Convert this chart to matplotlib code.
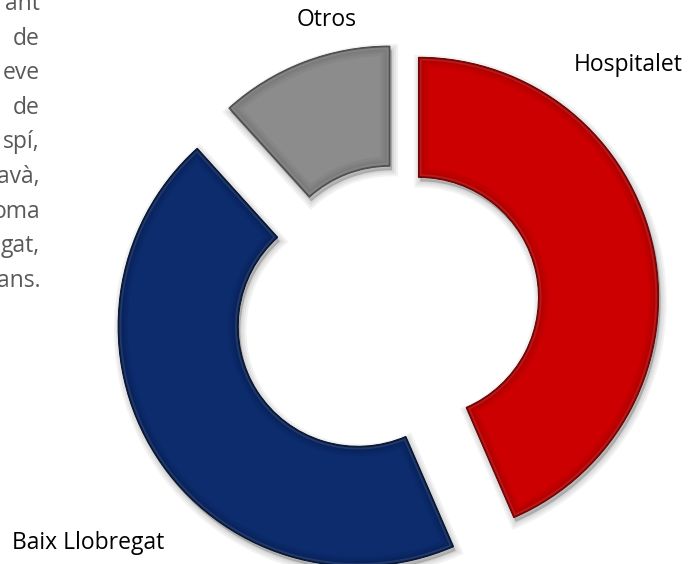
import matplotlib.pyplot as plt
from matplotlib.patches import Wedge

# donut data (share of total)
labels = ['Hospitalet', 'Baix Llobregat', 'Otros']
values = [43.5, 44.8, 11.7]
colors = ['#CC0000', '#0C2C6E', '#8C8C8C']
dark = ['#6E0000', '#03122F', '#4A4A4A']
explode = [23, 45, 17]

# cut-off paragraph on the left
side_text = ['ant', 'de', 'eve', 'de', 'spí,', 'avà,', 'oma', 'gat,', 'ans.']

W, H = 696, 564
fig = plt.figure(figsize=(W / 100, H / 100), dpi=100)
ax = fig.add_axes([0, 0, 1, 1])

wedges, _ = ax.pie(values, colors=colors, explode=explode, radius=240,
                   center=(396, H - 302), startangle=90, counterclock=False,
                   wedgeprops=dict(width=120, linewidth=0.8))

def copy_wedge(w, dx=0, dy=0, **kw):
    cx, cy = w.center
    return Wedge((cx + dx, cy + dy), w.r, w.theta1, w.theta2, width=w.width, **kw)

for i, w in enumerate(wedges):
    w.set_edgecolor(dark[i])
    w.set_zorder(2)
    # soft drop shadow
    for lw in [9, 6, 3, 1]:
        ax.add_patch(copy_wedge(w, 2, -4, facecolor='black', edgecolor='black',
                                linewidth=lw, alpha=0.05, zorder=1))
    # bevel: darker towards the edge
    for lw in [14, 10, 7, 4]:
        p = copy_wedge(w, fill=False, edgecolor=dark[i], linewidth=lw, alpha=0.09, zorder=3)
        ax.add_patch(p)
        p.set_clip_path(w)
    # faint light rim just inside the outline
    p = copy_wedge(w, fill=False, edgecolor='white', linewidth=4.5, alpha=0.10, zorder=4)
    ax.add_patch(p)
    p.set_clip_path(w)
    p = copy_wedge(w, fill=False, edgecolor=dark[i], linewidth=1.8, alpha=0.8, zorder=5)
    ax.add_patch(p)
    p.set_clip_path(w)

ax.set_xlim(0, W)
ax.set_ylim(0, H)
ax.set_aspect('equal')
ax.axis('off')

# slice labels
font = 'Open Sans'
ax.text(628, H - 65, labels[0], ha='center', va='center', fontsize=16.5, family=font, color='black')
ax.text(88, H - 543, labels[1], ha='center', va='center', fontsize=16.5, family=font, color='black')
ax.text(327, H - 20, labels[2], ha='center', va='center', fontsize=16.5, family=font, color='black')

for i, t in enumerate(side_text):
    ax.text(40, H - (10 + 34.6 * i), t, ha='right', va='baseline', fontsize=16.5,
            family=font, color='#595959')

fig.savefig('out.png', dpi=100)
